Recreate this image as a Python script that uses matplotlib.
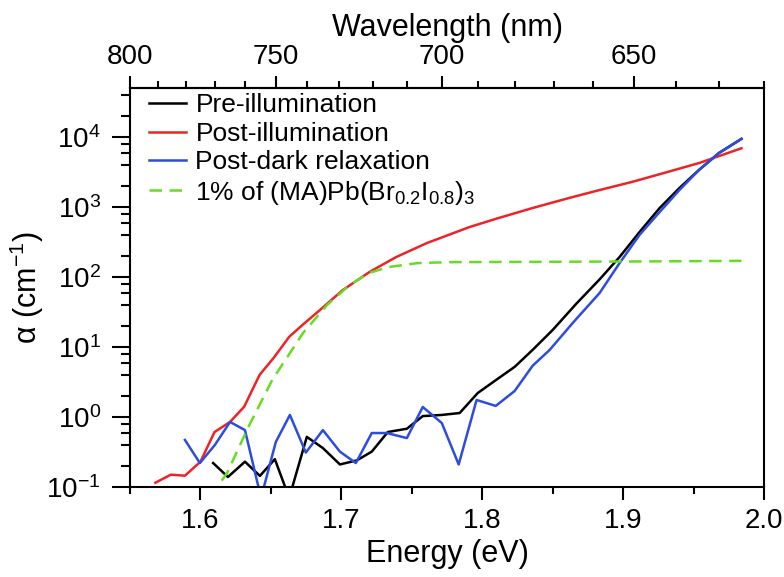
import numpy as np
import matplotlib
matplotlib.use("Agg")
import matplotlib.pyplot as plt
from matplotlib.ticker import FixedLocator, FixedFormatter, NullFormatter

plt.rcParams['font.family'] = ['Liberation Sans', 'DejaVu Sans']
plt.rcParams['mathtext.fontset'] = 'custom'
plt.rcParams['mathtext.rm'] = 'Liberation Sans'
plt.rcParams['mathtext.it'] = 'Liberation Sans:italic'
plt.rcParams['mathtext.bf'] = 'Liberation Sans:bold'

# ---- data ----
pre_E = [1.609, 1.6195, 1.6316, 1.6422, 1.6528, 1.663, 1.6755, 1.6869, 1.699, 1.711,
         1.7216, 1.733, 1.7465, 1.7578, 1.7713, 1.784, 1.7968, 1.810, 1.823, 1.8358,
         1.850, 1.867, 1.883, 1.8975, 1.9117, 1.926, 1.940, 1.954, 1.968, 1.984]
pre_a = [0.22, 0.139, 0.23, 0.144, 0.25, 0.07, 0.52, 0.36, 0.21, 0.24,
         0.32, 0.61, 0.68, 1.03, 1.07, 1.14, 2.2, 3.4, 5.2, 9.1,
         17.5, 42, 91, 193, 440, 970, 1870, 3400, 5900, 9400]

post_E = [1.568, 1.579, 1.589, 1.600, 1.610, 1.621, 1.631, 1.642, 1.652, 1.663,
          1.674, 1.685, 1.701, 1.720, 1.739, 1.761, 1.791, 1.810, 1.836, 1.862,
          1.883, 1.907, 1.930, 1.954, 1.984]
post_a = [0.115, 0.15, 0.145, 0.23, 0.61, 0.85, 1.4, 4.0, 7.0, 14,
          22, 34, 65, 118, 193, 307, 517, 680, 970, 1350,
          1740, 2300, 3100, 4250, 6900]

dark_E = [1.589, 1.5996, 1.6103, 1.621, 1.6316, 1.643, 1.6535, 1.6635, 1.6748, 1.6869,
          1.699, 1.7103, 1.7216, 1.7323, 1.7465, 1.7578, 1.7713, 1.7833, 1.796, 1.8096,
          1.823, 1.8358, 1.8479, 1.8642, 1.8833, 1.8975, 1.9117, 1.926, 1.940, 1.954,
          1.968, 1.984]
dark_a = [0.47, 0.22, 0.40, 0.85, 0.65, 0.07, 0.44, 1.07, 0.31, 0.65,
          0.32, 0.22, 0.59, 0.59, 0.50, 1.39, 0.82, 0.21, 1.75, 1.44,
          2.35, 5.4, 9.1, 22, 59, 158, 400, 850, 1750, 3400,
          5900, 9400]

ref_E = [1.608, 1.612, 1.619, 1.634, 1.651, 1.673, 1.690, 1.706, 1.720, 1.734,
         1.754, 1.777, 1.850, 1.920, 1.984]
ref_a = [0.07, 0.10, 0.16, 0.72, 3.4, 16, 40, 77, 115, 139,
         158, 163, 165, 167, 170]

labels = ['Pre-illumination', 'Post-illumination', 'Post-dark relaxation',
          r'1% of (MA)Pb(Br$_{0.2}$I$_{0.8}$)$_3$']

x_ticks = [1.6, 1.7, 1.8, 1.9, 2.0]
y_ticks = [1e-1, 1e0, 1e1, 1e2, 1e3, 1e4]
y_tick_labels = [r'$10^{-1}$', r'$10^{0}$', r'$10^{1}$', r'$10^{2}$', r'$10^{3}$', r'$10^{4}$']
wl_ticks = [800, 750, 700, 650]

# ---- figure ----
fig = plt.figure(figsize=(7.84, 5.77), dpi=100)
ax = fig.add_axes([130/784, 1-487/577, (764-130)/784, (487-88)/577])

lw = 1.8
ax.plot(pre_E, pre_a, color='black', lw=lw, label=labels[0])
ax.plot(post_E, post_a, color='#ec2428', lw=lw, label=labels[1])
ax.plot(dark_E, dark_a, color='#2d4ce0', lw=lw, label=labels[2])
ax.plot(ref_E, ref_a, color='#66dd22', lw=lw, dashes=(5.0, 3.0), label=labels[3])

ax.set_yscale('log')
ax.set_xlim(1.55, 2.0)
ax.set_ylim(0.1, 5.01e4)

ax.xaxis.set_major_locator(FixedLocator(x_ticks))
ax.xaxis.set_minor_locator(FixedLocator([1.55, 1.65, 1.75, 1.85, 1.95]))
ax.yaxis.set_major_locator(FixedLocator(y_ticks))
ax.yaxis.set_major_formatter(FixedFormatter(y_tick_labels))
minors = []
for d in range(-1, 5):
    for m in (2, 4, 6, 8):
        minors.append(m * 10.0**d)
ax.yaxis.set_minor_locator(FixedLocator(minors))
ax.yaxis.set_minor_formatter(NullFormatter())

ax.tick_params(axis='x', which='major', direction='out', length=9, width=1.5,
               labelsize=20, pad=6, top=False)
ax.tick_params(axis='x', which='minor', direction='out', length=5, width=1.5, top=False)
ax.tick_params(axis='y', which='major', direction='out', length=13, width=1.5,
               labelsize=20, pad=8, right=False)
ax.tick_params(axis='y', which='minor', direction='out', length=6.5, width=1.5, right=False)

for s in ax.spines.values():
    s.set_linewidth(1.5)

ax.set_xlabel('Energy (eV)', fontsize=22, labelpad=4)
ax.set_ylabel(r'α (cm$^{-1}$)', fontsize=22, labelpad=0)

hc = 1240.0
sec = ax.secondary_xaxis('top', functions=(lambda e: hc / np.asarray(e, dtype=float),
                                           lambda l: hc / np.asarray(l, dtype=float)))
sec.xaxis.set_major_locator(FixedLocator(wl_ticks))
sec.xaxis.set_minor_locator(FixedLocator(list(range(790, 619, -10))))
sec.xaxis.set_minor_formatter(NullFormatter())
sec.tick_params(axis='x', which='major', direction='out', length=9, width=1.5,
                labelsize=20, pad=4)
sec.tick_params(axis='x', which='minor', direction='out', length=5, width=1.5)
sec.spines['top'].set_linewidth(1.5)
sec.set_xlabel('Wavelength (nm)', fontsize=22, labelpad=6)

leg = ax.legend(loc='upper left', bbox_to_anchor=(0.022, 1.0), frameon=False,
                fontsize=19, handlelength=1.4, handletextpad=0.35,
                labelspacing=0.17, borderaxespad=0.1, borderpad=0.1)

fig.savefig('out.png', dpi=100)
